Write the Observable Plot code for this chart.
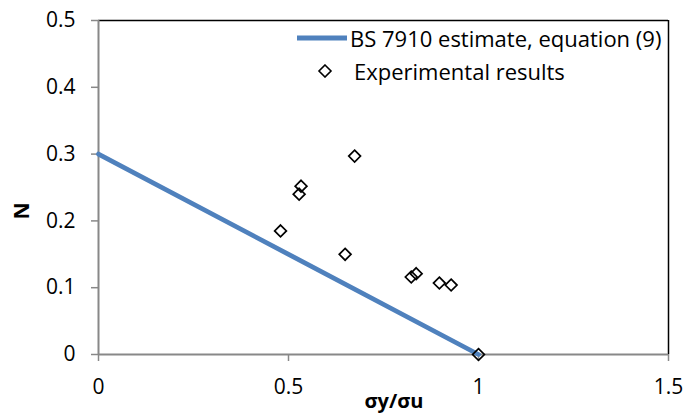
<!DOCTYPE html>
<html>
<head>
<meta charset="utf-8">
<script src="https://cdn.jsdelivr.net/npm/d3@7"></script>
<script src="https://cdn.jsdelivr.net/npm/@observablehq/plot@0.6"></script>
<style>
  html, body { margin: 0; padding: 0; background: #fff; }
  #wrap { position: relative; width: 687px; height: 415px; font-family: "Open Sans", sans-serif; }
  .leg { position: absolute; display: flex; align-items: center; font-size: 22px; color: #000; white-space: nowrap; }
</style>
</head>
<body>
<div id="wrap"></div>
<script>
// Data
const estimateX = [0, 1];
const estimateN = [0.3, 0];
const expX = [0.674, 0.533, 0.528, 0.479, 0.649, 0.823, 0.836, 0.897, 0.928, 1.0];
const expN = [0.297, 0.252, 0.240, 0.185, 0.150, 0.116, 0.121, 0.107, 0.104, 0.0];
const xTicks = [0, 0.5, 1, 1.5];
const yTicks = [0, 0.1, 0.2, 0.3, 0.4, 0.5];
const seriesNames = ["BS 7910 estimate, equation (9)", "Experimental results"];
const xLabel = "σy/σu";
const yLabel = "N";

const lineColor = "#4F81BD";
const axisColor = "#888888";

const estimate = estimateX.map((x, i) => ({x, n: estimateN[i]}));
const experiments = expX.map((x, i) => ({x, n: expN[i]}));

const chart = Plot.plot({
  width: 687,
  height: 415,
  marginLeft: 98,
  marginRight: 19,
  marginTop: 20,
  marginBottom: 61,
  style: {fontFamily: "Open Sans, sans-serif", fontSize: "21px", color: "#000", background: "#fff"},
  x: {domain: [0, 1.5]},
  y: {domain: [0, 0.5]},
  marks: [
    // frame top & right
    Plot.ruleY([0.5], {stroke: "#000", strokeWidth: 1.5}),
    Plot.ruleX([1.5], {stroke: "#000", strokeWidth: 1.5}),
    // axes lines
    Plot.ruleX([0], {stroke: axisColor, strokeWidth: 2}),
    Plot.ruleY([0], {stroke: axisColor, strokeWidth: 2}),
    Plot.axisX({ticks: xTicks, tickFormat: d => String(d), tickSize: 7, tickPadding: 18, stroke: axisColor, strokeWidth: 1.5, label: null, fontSize: 21}),
    Plot.axisY({ticks: yTicks, tickFormat: d => String(d), tickSize: 7, tickPadding: 16, stroke: axisColor, strokeWidth: 1.5, label: null, fontSize: 21}),
    Plot.line(estimate, {x: "x", y: "n", stroke: lineColor, strokeWidth: 4.8}),
    Plot.dot(experiments, {x: "x", y: "n", symbol: "diamond2", r: 5.3, stroke: "#000", strokeWidth: 1.7, fill: "none"})
  ]
});

const wrap = document.getElementById("wrap");
wrap.appendChild(chart);
chart.querySelectorAll("g[aria-label='x-axis tick label'] text, g[aria-label='y-axis tick label'] text").forEach(t => t.setAttribute("fill", "#000"));

// axis titles
const ns = "http://www.w3.org/2000/svg";
const xt = document.createElementNS(ns, "text");
xt.setAttribute("x", 394); xt.setAttribute("y", 400);
xt.setAttribute("text-anchor", "middle"); xt.setAttribute("dominant-baseline", "central");
xt.setAttribute("font-weight", "bold"); xt.setAttribute("font-size", "20");
xt.textContent = xLabel;
chart.appendChild(xt);
const yt = document.createElementNS(ns, "text");
yt.setAttribute("transform", "translate(21,211) rotate(-90)");
yt.setAttribute("text-anchor", "middle"); yt.setAttribute("dominant-baseline", "central");
yt.setAttribute("font-weight", "bold"); yt.setAttribute("font-size", "21");
yt.textContent = yLabel;
chart.appendChild(yt);

// legend (HTML overlay)
function legendItem(top, left, swatchSvg, label) {
  const d = document.createElement("div");
  d.className = "leg";
  d.style.top = top + "px"; d.style.left = left + "px";
  d.innerHTML = swatchSvg + `<span>${label}</span>`;
  wrap.appendChild(d);
}
legendItem(23, 296,
  `<svg width="54" height="12"><line x1="1" y1="6" x2="51" y2="6" stroke="${lineColor}" stroke-width="4.8"/></svg>`,
  seriesNames[0]);
legendItem(56, 316,
  `<svg width="38" height="14"><path d="M9,1 L15,7 L9,13 L3,7 Z" fill="none" stroke="#000" stroke-width="1.6"/></svg>`,
  seriesNames[1]);
</script>
</body>
</html>
